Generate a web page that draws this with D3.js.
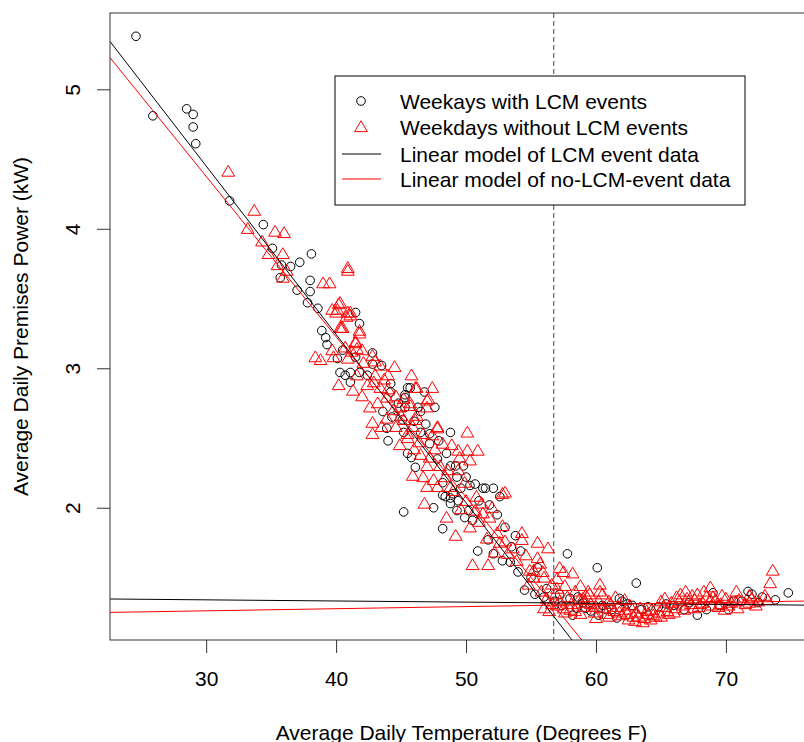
<!DOCTYPE html>
<html>
<head>
<meta charset="utf-8">
<script src="https://cdn.jsdelivr.net/npm/d3@7"></script>
<style>
  body { margin: 0; background: #fff; }
  svg { display: block; font-family: "Liberation Sans", Arial, sans-serif; }
</style>
</head>
<body>
<svg id="chart" width="804" height="742"></svg>
<script>
// weekdays with LCM events (circles)
var lcmDays = [
  [24.6,5.38],[25.9,4.81],[28.5,4.86],[29.0,4.82],[29.0,4.73],[29.2,4.61],[31.8,4.20],[34.4,4.03],
  [35.1,3.86],[35.8,3.74],[38.1,3.82],[37.2,3.76],[36.5,3.73],[35.7,3.65],[38.0,3.63],[38.0,3.55],
  [37.0,3.56],[37.8,3.47],[38.6,3.43],[41.5,3.40],[41.8,3.32],[38.9,3.27],[39.2,3.22],[39.3,3.17],
  [41.5,3.08],[40.5,3.13],[40.1,3.07],[42.8,3.11],[42.8,3.03],[43.5,3.02],[40.3,2.97],[41.1,2.97],
  [40.7,2.95],[41.8,2.97],[41.1,2.90],[42.4,2.95],[44.2,2.89],[45.5,2.86],[46.8,2.83],[45.3,2.79],
  [44.2,2.83],[47.6,2.72],[46.3,2.72],[43.6,2.69],[44.3,2.65],[43.9,2.57],[45.2,2.54],[46.5,2.54],
  [47.2,2.53],[45.7,2.86],[45.3,2.81],[45.3,2.72],[46.5,2.69],[45.1,2.63],[44.0,2.48],[48.8,2.54],
  [47.2,2.46],[45.5,2.39],[45.8,2.36],[48.5,2.39],[47.8,2.35],[48.8,2.30],[49.8,2.30],[46.1,2.29],
  [49.3,2.22],[50.7,2.17],[51.5,2.14],[52.1,2.14],[52.6,2.08],[48.2,2.09],[48.8,2.07],[49.4,2.05],
  [47.5,2.00],[50.3,2.16],[45.2,1.97],[49.2,2.30],[51.3,2.14],[48.4,2.08],[49.0,2.10],[48.8,2.03],
  [49.3,1.98],[48.2,1.85],[49.9,1.93],[50.5,1.91],[53.0,1.86],[53.8,1.80],[54.2,1.69],[50.9,1.69],
  [52.1,1.67],[52.8,1.62],[53.4,1.61],[55.5,1.57],[54.0,1.54],[57.8,1.67],[54.5,1.41],[51.7,1.77],
  [60.1,1.57],[63.1,1.46],[61.8,1.35],[58.2,1.23],[60.2,1.23],[61.6,1.21],[74.8,1.39],[71.7,1.40],
  [69.0,1.39],[67.8,1.23],[70.2,1.27],[68.5,1.27],[72.5,1.32],[55.3,1.38],[56.0,1.36],[56.8,1.33],
  [57.4,1.30],[58.0,1.35],[58.5,1.28],[59.0,1.32],[59.6,1.26],[60.5,1.30],[61.2,1.27],[62.0,1.33],
  [62.4,1.31],[63.5,1.27],[64.8,1.29],[66.0,1.30],[66.8,1.27],[71.2,1.33],[72.8,1.36],[72.0,1.38],
  [44.8,2.75],[46.0,2.62],[46.9,2.60],[47.9,2.48],[48.2,2.18],[49.6,2.14],[50.0,2.22],[51.0,2.05],
  [51.8,2.02],[50.2,1.98],[52.4,1.95],[53.5,1.72],[55.0,1.50],[56.2,1.42],[57.2,1.38],[58.6,1.36],
  [59.2,1.28],[60.8,1.27],[62.8,1.30],[64.0,1.29],[65.4,1.31],[67.2,1.32],[69.5,1.30],[70.6,1.33],
  [73.8,1.34]
];

// weekdays without LCM events (triangles)
var noLcmDays = [
  [31.7,4.41],[33.7,4.13],[33.2,4.00],[35.3,3.98],[36.0,3.97],[34.3,3.91],[34.8,3.82],[35.5,3.74],
  [35.9,3.82],[36.2,3.70],[35.9,3.65],[40.9,3.72],[39.0,3.61],[39.5,3.61],[40.3,3.47],[40.1,3.42],
  [40.9,3.40],[41.1,3.38],[41.8,3.27],[40.3,3.29],[41.5,3.19],[40.7,3.15],[39.7,3.13],[41.6,3.14],
  [38.4,3.08],[39.8,3.08],[42.8,3.09],[39.7,3.42],[42.0,3.13],[40.9,3.07],[42.1,3.04],[43.4,3.02],
  [44.5,3.01],[40.2,2.88],[41.3,2.84],[42.4,2.88],[43.4,2.86],[42.9,2.90],[42.6,2.72],[43.9,2.79],
  [44.9,2.72],[46.1,2.86],[47.0,2.77],[45.7,2.75],[42.8,2.61],[43.9,2.64],[45.2,2.63],[46.2,2.66],
  [47.8,2.58],[42.8,2.53],[45.5,2.53],[46.7,2.53],[38.8,3.06],[47.0,2.72],[46.1,2.63],[50.1,2.54],
  [45.5,2.50],[48.2,2.46],[49.4,2.41],[50.1,2.41],[50.9,2.41],[50.3,2.34],[49.5,2.36],[46.5,2.38],
  [47.2,2.36],[47.0,2.30],[49.4,2.27],[47.5,2.20],[45.9,2.23],[46.7,2.22],[48.4,2.22],[49.9,2.18],
  [53.0,2.11],[47.0,2.15],[47.8,2.15],[48.8,2.15],[51.2,2.03],[46.8,2.03],[50.8,2.08],[45.2,2.78],
  [52.8,2.10],[52.0,2.00],[51.3,1.96],[51.8,1.93],[48.5,1.93],[49.2,1.80],[50.3,1.86],[52.8,1.87],
  [51.6,1.78],[54.3,1.77],[55.5,1.75],[56.3,1.71],[50.5,1.59],[51.7,1.59],[53.2,1.67],[52.2,1.68],
  [53.9,1.62],[55.5,1.64],[54.9,1.55],[55.9,1.54],[57.2,1.57],[58.2,1.53],[55.7,1.60],[57.5,1.54],
  [60.3,1.45],[60.3,1.40],[59.4,1.40],[54.3,1.82],[73.6,1.55],[73.4,1.46],[73.0,1.37],[68.8,1.43],
  [70.8,1.40],[69.7,1.37],[71.8,1.37],[70.9,1.28],
  [40.2,3.46],[41.1,3.40],[40.5,3.29],[41.8,3.25],[41.5,3.18],[41.2,3.12],[40.0,3.40],[40.8,3.37],
  [40.4,3.29],[46.2,2.86],[47.1,2.78],[45.7,2.73],[47.8,2.57],[55.2,1.55],[40.9,3.70],
  [43.0,2.95],[43.7,2.92],[44.0,2.85],[44.6,2.80],[43.2,2.75],[44.4,2.70],[45.0,2.66],[43.5,2.58],
  [44.6,2.58],[45.9,2.58],[46.4,2.47],[47.4,2.52],[46.0,2.42],[47.6,2.42],[48.9,2.45],[48.0,2.30],
  [48.6,2.27],[49.0,2.12],[50.0,2.05],[49.6,1.99],[50.7,1.98],[51.0,1.90],[52.4,1.82],[53.0,1.76],
  [53.6,1.71],[54.6,1.66],[52.6,1.75],[56.0,1.50],[56.6,1.45],[55.2,1.50],[54.8,1.45],[57.0,1.49],
  [58.8,1.44],[59.0,1.35],[57.6,1.44],[42.0,2.80],[41.6,2.95],[43.0,3.05],[44.0,2.95],[45.8,2.95],
  [47.4,2.86],[44.9,2.45],
  [55.8,1.40],[56.2,1.35],[56.6,1.31],[56.9,1.38],[57.2,1.33],[57.5,1.28],[57.8,1.36],[58.1,1.31],
  [58.4,1.26],[58.7,1.34],[59.0,1.29],[59.3,1.36],[59.6,1.31],[59.9,1.25],[60.2,1.33],[60.5,1.28],
  [60.8,1.24],[61.1,1.31],[61.4,1.26],[61.7,1.29],[62.0,1.23],[62.3,1.27],[62.6,1.30],[62.9,1.22],
  [63.1,1.25],[63.4,1.28],[63.7,1.21],[64.0,1.24],[64.3,1.27],[64.6,1.22],[64.9,1.25],[65.2,1.29],
  [65.5,1.26],[65.8,1.32],[66.1,1.28],[66.4,1.33],[66.7,1.30],[67.0,1.35],[67.3,1.31],[67.6,1.34],
  [67.9,1.29],[68.2,1.32],[68.5,1.36],[68.9,1.30],[69.2,1.34],[69.6,1.31],[70.0,1.35],[70.4,1.32],
  [71.0,1.34],[71.5,1.31],[72.0,1.35],[72.5,1.33],[73.2,1.34],[63.0,1.19],[63.6,1.18],[64.2,1.20],
  [62.5,1.20],[61.0,1.22],[60.0,1.21],[58.8,1.24],[57.6,1.25],[59.5,1.38],[61.5,1.36],[66.2,1.36],
  [69.9,1.27],[65.0,1.33],[62.2,1.34],[57.0,1.42],[58.4,1.40],[60.5,1.38],
  [56.0,1.28],[56.4,1.26],[57.0,1.30],[58.0,1.27],[59.2,1.32],[60.0,1.29],[61.0,1.33],[61.8,1.25],
  [62.4,1.24],[63.3,1.22],[63.9,1.26],[64.4,1.23],[65.0,1.22],[65.6,1.24],[66.0,1.25],[66.8,1.27],
  [67.5,1.28],[68.0,1.31],[68.8,1.34],[69.4,1.29],[70.2,1.30],[70.8,1.33],[71.8,1.32],[72.3,1.30],
  [66.5,1.38],[67.4,1.37],[67.8,1.38],[68.3,1.40],[69.0,1.36],[65.3,1.35],[66.9,1.40]
];

// fitted lines: intercept a, slope b
var fitLines = [
  {a: 8.071, b: -0.1207, color: "#000000"},
  {a: 7.826, b: -0.1150, color: "#ff0000"},
  {a: 1.3645, b: -0.00082, color: "#000000"},
  {a: 1.2156, b: 0.00152, color: "#ff0000"}
];
var balancePoint = 56.75;

var xTicks = [30, 40, 50, 60, 70];
var yTicks = [2, 3, 4, 5];
var legendLabels = ["Weekays with LCM events", "Weekdays without LCM events",
                    "Linear model of LCM event data", "Linear model of no-LCM-event data"];

var svg = d3.select("#chart");
var pLeft = 110, pRight = 813, pTop = 13, pBottom = 640;

var x = d3.scaleLinear().domain([22.6, 76.7]).range([pLeft, pRight]);
var y = d3.scaleLinear().domain([1.052, 5.547]).range([pBottom, pTop]);

svg.append("clipPath").attr("id", "plotclip")
  .append("rect").attr("x", pLeft).attr("y", pTop)
  .attr("width", pRight - pLeft).attr("height", pBottom - pTop);

var plot = svg.append("g").attr("clip-path", "url(#plotclip)");

// points
plot.selectAll(".lcm")
  .data(lcmDays)
  .enter()
  .append("circle")
  .attr("class", "lcm")
  .attr("cx", function(d) { return x(d[0]); })
  .attr("cy", function(d) { return y(d[1]); })
  .attr("r", 4.3)
  .attr("fill", "none")
  .attr("stroke", "#000")
  .attr("stroke-width", 1);

var tri = "M0,-6.2L6.4,4.6L-6.4,4.6Z";
plot.selectAll(".nolcm")
  .data(noLcmDays)
  .enter()
  .append("path")
  .attr("class", "nolcm")
  .attr("d", tri)
  .attr("transform", function(d) { return "translate(" + x(d[0]) + "," + y(d[1]) + ")"; })
  .attr("fill", "none")
  .attr("stroke", "#ff0000")
  .attr("stroke-width", 1);

// fitted lines across the whole plot
var xd = x.domain();
plot.selectAll(".fit")
  .data(fitLines)
  .enter()
  .append("line")
  .attr("class", "fit")
  .attr("x1", x(xd[0]))
  .attr("x2", x(xd[1]))
  .attr("y1", function(d) { return y(d.a + d.b * xd[0]); })
  .attr("y2", function(d) { return y(d.a + d.b * xd[1]); })
  .attr("stroke", function(d) { return d.color; })
  .attr("stroke-width", 1);

// balance point
plot.append("line")
  .attr("x1", x(balancePoint)).attr("x2", x(balancePoint))
  .attr("y1", pTop).attr("y2", pBottom)
  .attr("stroke", "#444")
  .attr("stroke-width", 1)
  .attr("stroke-dasharray", "5,3");

// box
svg.append("rect")
  .attr("x", pLeft).attr("y", pTop)
  .attr("width", pRight - pLeft).attr("height", pBottom - pTop)
  .attr("fill", "none").attr("stroke", "#333").attr("stroke-width", 1);

// axes
var gx = svg.append("g").attr("transform", "translate(0," + pBottom + ")")
  .call(d3.axisBottom(x).tickValues(xTicks).tickSize(13).tickSizeOuter(0).tickFormat(d3.format("d")));
gx.select(".domain").remove();
gx.selectAll("line").attr("stroke", "#333");
gx.selectAll("text")
  .attr("y", 46).attr("dy", 0)
  .attr("font-size", 21).attr("fill", "#000")
  .attr("font-family", "Liberation Sans, Arial, sans-serif");

var gy = svg.append("g").attr("transform", "translate(" + pLeft + ",0)")
  .call(d3.axisLeft(y).tickValues(yTicks).tickSize(13).tickSizeOuter(0).tickFormat(d3.format("d")));
gy.select(".domain").remove();
gy.selectAll("line").attr("stroke", "#333");
gy.selectAll("text")
  .attr("x", 0).attr("y", 0).attr("dy", 0)
  .attr("text-anchor", "middle")
  .attr("transform", "translate(-30.5,0) rotate(-90)")
  .attr("font-size", 21).attr("fill", "#000")
  .attr("font-family", "Liberation Sans, Arial, sans-serif");

// axis titles
svg.append("text")
  .attr("x", (pLeft + pRight) / 2).attr("y", 739.5)
  .attr("text-anchor", "middle")
  .attr("font-size", 21)
  .text("Average Daily Temperature (Degrees F)");

svg.append("text")
  .attr("transform", "translate(28," + ((pTop + pBottom) / 2) + ") rotate(-90)")
  .attr("text-anchor", "middle")
  .attr("font-size", 21)
  .text("Average Daily Premises Power (kW)");

// legend
var legend = svg.append("g");
legend.append("rect")
  .attr("x", 335).attr("y", 76)
  .attr("width", 410).attr("height", 129)
  .attr("fill", "#fff").attr("stroke", "#000").attr("stroke-width", 1);

var rowY = [101, 127, 154, 179];
legend.selectAll(".ltext")
  .data(legendLabels)
  .enter()
  .append("text")
  .attr("class", "ltext")
  .attr("x", 400)
  .attr("y", function(d, i) { return rowY[i] + 7.5; })
  .attr("font-size", 21)
  .text(function(d) { return d; });

legend.append("circle")
  .attr("cx", 361).attr("cy", rowY[0]).attr("r", 4.3)
  .attr("fill", "none").attr("stroke", "#000");
legend.append("path")
  .attr("d", tri)
  .attr("transform", "translate(361," + rowY[1] + ")")
  .attr("fill", "none").attr("stroke", "#ff0000");
legend.append("line")
  .attr("x1", 342).attr("x2", 381).attr("y1", rowY[2]).attr("y2", rowY[2])
  .attr("stroke", "#000");
legend.append("line")
  .attr("x1", 342).attr("x2", 381).attr("y1", rowY[3]).attr("y2", rowY[3])
  .attr("stroke", "#ff0000");
</script>
</body>
</html>
